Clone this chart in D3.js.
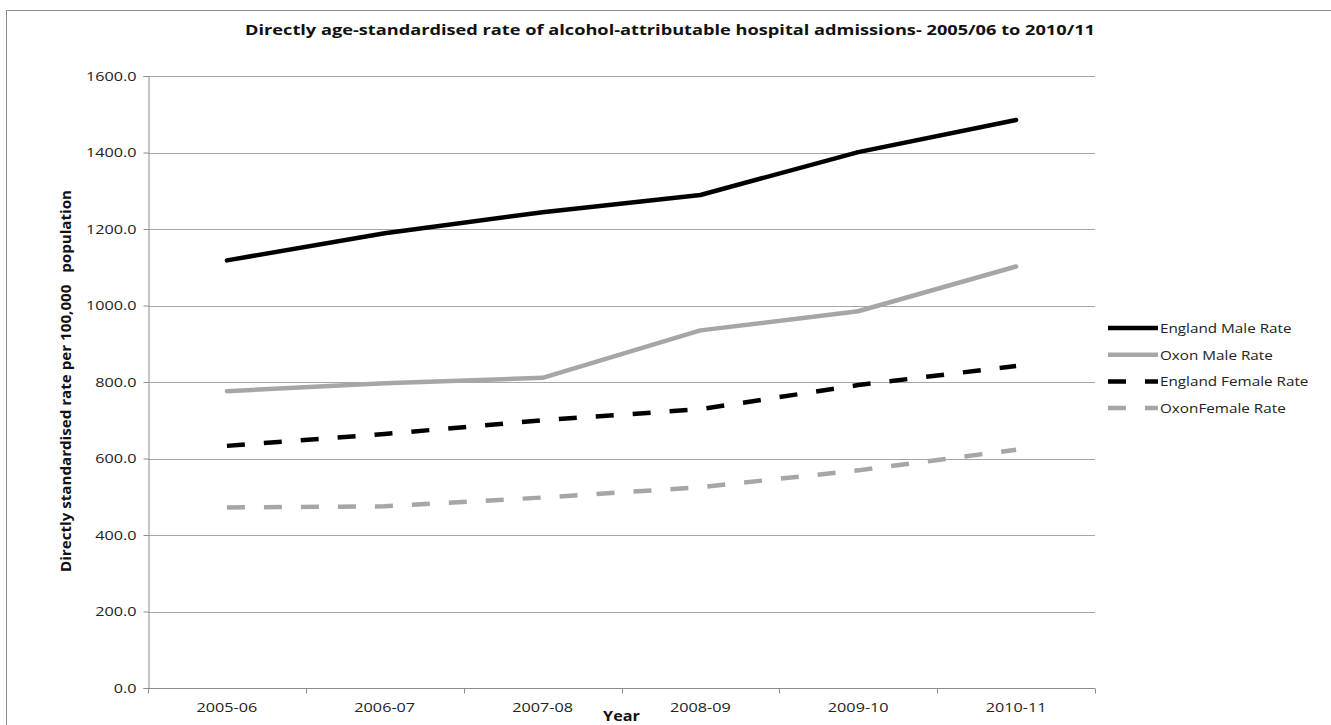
<!DOCTYPE html>
<html>
<head>
<meta charset="utf-8">
<script src="https://cdn.jsdelivr.net/npm/d3@7"></script>
<style>
  html, body { margin: 0; padding: 0; background: #fff; }
  svg { display: block; font-family: 'Open Sans', sans-serif; }
</style>
</head>
<body>
<div id="chart"></div>
<script>
// values
var years = ['2005-06', '2006-07', '2007-08', '2008-09', '2009-10', '2010-11'];
var englandMale = [1118, 1189, 1244, 1289, 1401, 1485];
var oxonMale = [776, 797, 811, 935, 985, 1102];
var englandFemale = [633, 664, 700, 729, 792, 842];
var oxonFemale = [472, 475, 498, 525, 569, 623];
var yTicks = [0, 200, 400, 600, 800, 1000, 1200, 1400, 1600];

var series = [
  { name: 'England Male Rate', values: englandMale, color: '#000000', dash: null },
  { name: 'Oxon Male Rate', values: oxonMale, color: '#a6a6a6', dash: null },
  { name: 'England Female Rate', values: englandFemale, color: '#000000', dash: '18,19' },
  { name: 'OxonFemale Rate', values: oxonFemale, color: '#a6a6a6', dash: '18,19' }
];

var W = 1331, H = 725;
var margin = { top: 76, left: 148, right: 236, bottom: 37 };
var plotW = W - margin.left - margin.right,
    plotH = H - margin.top - margin.bottom;

// the picture is a little stretched sideways, so are its texts
var stretchK = 1.2;
function stretch(sel, k){
  sel.each(function(){
    var l = this.getComputedTextLength();
    d3.select(this).attr('textLength', l * k).attr('lengthAdjust', 'spacingAndGlyphs');
  });
}

var svg = d3.select('#chart').append('svg')
  .attr('width', W).attr('height', H);

// outer chart frame
svg.append('rect')
  .attr('x', 6.5).attr('y', 10.5)
  .attr('width', 1400).attr('height', 800)
  .attr('fill', 'none').attr('stroke', '#8c8c8c');

var g = svg.append('g')
  .attr('transform', 'translate(' + margin.left + ',' + margin.top + ')');

var x = d3.scaleBand().domain(years).range([0, plotW]);
var y = d3.scaleLinear().domain([0, 1600]).range([plotH, 0]);

// gridlines
g.append('g').selectAll('line')
  .data(yTicks.filter(function(d){ return d > 0; }))
  .join('line')
  .attr('x1', 0).attr('x2', plotW)
  .attr('y1', function(d){ return Math.round(y(d)) + 0.5; })
  .attr('y2', function(d){ return Math.round(y(d)) + 0.5; })
  .attr('stroke', '#a6a6a6').attr('stroke-width', 1);

// y axis
var yAxis = g.append('g')
  .attr('transform', 'translate(0.5,0)')
  .call(d3.axisLeft(y).tickValues(yTicks).tickFormat(d3.format('.1f')).tickSize(5).tickPadding(7));
yAxis.select('.domain').attr('stroke', '#8c8c8c');
yAxis.selectAll('.tick line').attr('stroke', '#8c8c8c');
yAxis.selectAll('.tick text')
  .attr('font-size', 13.5).attr('fill', '#222').attr('font-family', 'Open Sans, sans-serif')
  .call(stretch, stretchK);

// x axis, ticks at category boundaries
var xAxisG = g.append('g')
  .attr('transform', 'translate(0,' + (plotH + 0.5) + ')');
xAxisG.append('line')
  .attr('x1', 0).attr('x2', plotW)
  .attr('stroke', '#8c8c8c');
xAxisG.selectAll('.bound')
  .data(d3.range(years.length + 1))
  .join('line')
  .attr('class', 'bound')
  .attr('x1', function(i){ return Math.round(i * x.bandwidth()) + 0.5; })
  .attr('x2', function(i){ return Math.round(i * x.bandwidth()) + 0.5; })
  .attr('y1', 0).attr('y2', 5)
  .attr('stroke', '#8c8c8c');
xAxisG.selectAll('.lab')
  .data(years)
  .join('text')
  .attr('class', 'lab')
  .attr('x', function(d){ return x(d) + x.bandwidth() / 2; })
  .attr('y', 23)
  .attr('text-anchor', 'middle')
  .attr('font-size', 13.5).attr('fill', '#222')
  .text(function(d){ return d; })
  .call(stretch, stretchK);

// lines
var line = d3.line()
  .x(function(d, i){ return x(years[i]) + x.bandwidth() / 2; })
  .y(function(d){ return y(d); });

g.append('g').selectAll('path')
  .data(series)
  .join('path')
  .attr('d', function(s){ return line(s.values); })
  .attr('fill', 'none')
  .attr('stroke', function(s){ return s.color; })
  .attr('stroke-width', 4.5)
  .attr('stroke-linejoin', 'round')
  .attr('stroke-linecap', function(s){ return s.dash ? 'butt' : 'round'; })
  .attr('stroke-dasharray', function(s){ return s.dash; });

// titles
svg.append('text')
  .attr('x', 670).attr('y', 35)
  .attr('text-anchor', 'middle')
  .attr('font-size', 14.5).attr('font-weight', 'bold').attr('fill', '#111')
  .attr('textLength', 850).attr('lengthAdjust', 'spacingAndGlyphs')
  .text('Directly age-standardised rate of alcohol-attributable hospital admissions- 2005/06 to 2010/11');

svg.append('text')
  .attr('x', margin.left + plotW / 2).attr('y', 721)
  .attr('text-anchor', 'middle')
  .attr('font-size', 13.5).attr('font-weight', 'bold').attr('fill', '#111')
  .text('Year')
  .call(stretch, stretchK);

svg.append('text')
  .attr('transform', 'translate(71,381) rotate(-90)')
  .attr('text-anchor', 'middle')
  .attr('font-size', 13.5).attr('font-weight', 'bold').attr('fill', '#111')
  .style('white-space', 'pre')
  .text('Directly standardised rate per 100,000   population')
  .attr('textLength', 382).attr('lengthAdjust', 'spacingAndGlyphs');

// legend
var legend = svg.append('g').attr('transform', 'translate(1108,328)');
var item = legend.selectAll('g')
  .data(series)
  .join('g')
  .attr('transform', function(d, i){ return 'translate(0,' + (i * 26.7) + ')'; });
item.append('line')
  .attr('x1', 0).attr('x2', 50)
  .attr('stroke', function(s){ return s.color; })
  .attr('stroke-width', 4.5)
  .attr('stroke-dasharray', function(s){ return s.dash; });
item.append('text')
  .attr('x', 52).attr('y', 5)
  .attr('font-size', 13.5).attr('fill', '#222')
  .text(function(s){ return s.name; })
  .call(stretch, 1.13);
</script>
</body>
</html>
